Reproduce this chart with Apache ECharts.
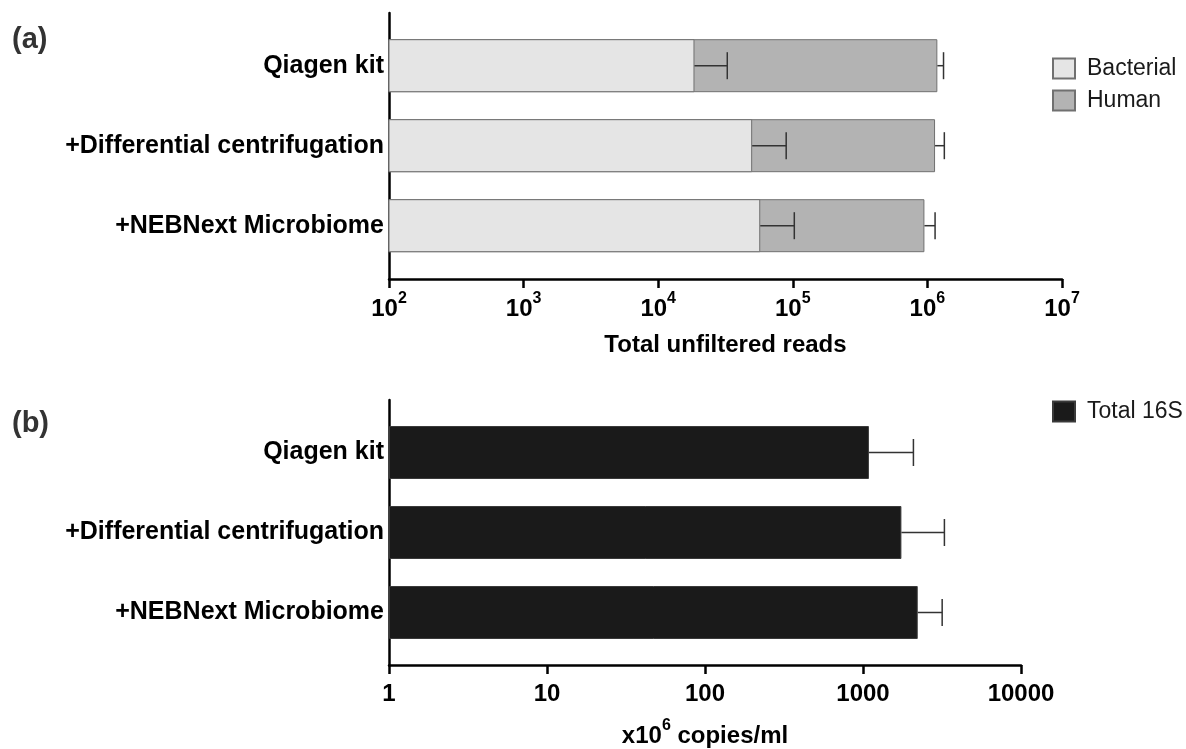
<!DOCTYPE html>
<html>
<head>
<meta charset="utf-8">
<script src="https://cdn.jsdelivr.net/npm/echarts@6/dist/echarts.min.js"></script>
<style>html,body{margin:0;padding:0;background:#fff}#main{width:1186px;height:749px}</style>
</head>
<body>
<div id="main"></div>
<script>
var methods = ['Qiagen kit', '+Differential centrifugation', '+NEBNext Microbiome'];
// panel (a) reads
var bacterialReads = [18600, 49900, 57300];
var bacterialErr = [14000, 39400, 45300];
var humanReads = [1167000, 1090000, 893000];
var totalErr = [132000, 196000, 190000];
// panel (b) 16S copies (x10^6 / ml)
var copies16S = [1090, 1750, 2220];
var copies16SErr = [995, 1525, 950];

var totalReads = [], errBact = [], errTotal = [], err16S = [];
for (var i = 0; i < methods.length; i++) {
	totalReads.push(bacterialReads[i] + humanReads[i]);
	errBact.push([bacterialReads[i], bacterialReads[i] + bacterialErr[i], i]);
	errTotal.push([totalReads[i], totalReads[i] + totalErr[i], i]);
	err16S.push([copies16S[i], copies16S[i] + copies16SErr[i], i]);
}

var FONT = 'Liberation Sans, Arial, sans-serif';

function errorBar(params, api) {
	var cat = api.value(2);
	var a = api.coord([api.value(0), cat]);
	var b = api.coord([api.value(1), cat]);
	var h = 13.5;
	var st = {stroke: '#333', lineWidth: 1.5};
	return {type: 'group', children: [
		{type: 'line', shape: {x1: a[0], y1: a[1], x2: b[0], y2: b[1]}, style: st},
		{type: 'line', shape: {x1: b[0], y1: b[1] - h, x2: b[0], y2: b[1] + h}, style: st}
	]};
}

var axLine = {show: true, lineStyle: {color: '#000', width: 2.5}};
var supRich = {
	b: {fontSize: 24, fontWeight: 'bold', color: '#000', fontFamily: FONT, verticalAlign: 'bottom', lineHeight: 30},
	s: {fontSize: 16, fontWeight: 'bold', color: '#000', fontFamily: FONT, verticalAlign: 'top', lineHeight: 30}
};
var legendText = {fontSize: 23, color: '#1a1a1a', fontFamily: FONT, padding: [0, 0, 0, 7]};

var myChart = echarts.init(document.getElementById('main'));

option = {
	backgroundColor: '#fff',
	animation: false,
	title: [
		{text: '(a)', left: 12, top: 25, padding: 0, textStyle: {fontSize: 29, fontWeight: 'bold', color: '#333', fontFamily: FONT}},
		{text: '(b)', left: 12, top: 409, padding: 0, textStyle: {fontSize: 29, fontWeight: 'bold', color: '#333', fontFamily: FONT}}
	],
	legend: [
		{data: ['Bacterial', 'Human'], orient: 'vertical', left: 1052, top: 57, padding: 0,
		 itemWidth: 22, itemHeight: 20, itemGap: 9, icon: 'rect', textStyle: legendText},
		{data: ['Total 16S'], orient: 'vertical', left: 1052, top: 400, padding: 0,
		 itemWidth: 22, itemHeight: 20, icon: 'rect', textStyle: legendText}
	],
	grid: [
		{left: 389, top: 13, width: 673, height: 266, outerBoundsMode: 'none'},
		{left: 389, top: 25.7, width: 673, height: 240, outerBoundsMode: 'none'},
		{left: 389, top: 400, width: 632, height: 265, outerBoundsMode: 'none'},
		{left: 389, top: 412.5, width: 632, height: 240, outerBoundsMode: 'none'}
	],
	xAxis: [
		{gridIndex: 0, type: 'log', logBase: 10, min: 100, max: 1e7, splitNumber: 5,
		 axisLine: axLine, axisTick: {show: true, length: 9, lineStyle: {color: '#000', width: 2.5}},
		 splitLine: {show: false}, minorTick: {show: false},
		 axisLabel: {margin: 12, formatter: function (v) {
			return '{b|10}{s|' + Math.round(Math.log10(v)) + '}';
		 }, rich: supRich},
		 name: 'Total unfiltered reads', nameLocation: 'middle', nameGap: 54,
		 nameTextStyle: {fontSize: 24, fontWeight: 'bold', color: '#000', fontFamily: FONT}},
		{gridIndex: 1, type: 'log', logBase: 10, min: 100, max: 1e7, show: false},
		{gridIndex: 2, type: 'log', logBase: 10, min: 1, max: 10000, splitNumber: 4,
		 axisLine: axLine, axisTick: {show: true, length: 9, lineStyle: {color: '#000', width: 2.5}},
		 splitLine: {show: false}, minorTick: {show: false},
		 axisLabel: {margin: 17, fontSize: 24, fontWeight: 'bold', color: '#000', fontFamily: FONT,
			formatter: function (v) { return String(Math.round(v)); }},
		 name: '{n|x10}{s|6}{n| copies/ml}', nameLocation: 'middle', nameGap: 53,
		 nameTextStyle: {rich: {
			n: {fontSize: 24, fontWeight: 'bold', color: '#000', fontFamily: FONT, verticalAlign: 'bottom', lineHeight: 30},
			s: {fontSize: 16, fontWeight: 'bold', color: '#000', fontFamily: FONT, verticalAlign: 'top', lineHeight: 30}
		 }}},
		{gridIndex: 3, type: 'log', logBase: 10, min: 1, max: 10000, show: false}
	],
	yAxis: [
		{gridIndex: 0, type: 'value', min: 0, max: 1, axisLine: axLine, axisTick: {show: false},
		 axisLabel: {show: false}, splitLine: {show: false}},
		{gridIndex: 1, type: 'category', data: methods, inverse: true,
		 axisLine: {show: false}, axisTick: {show: false},
		 axisLabel: {margin: 5, fontSize: 25, fontWeight: 'bold', color: '#000', fontFamily: FONT}},
		{gridIndex: 2, type: 'value', min: 0, max: 1, axisLine: axLine, axisTick: {show: false},
		 axisLabel: {show: false}, splitLine: {show: false}},
		{gridIndex: 3, type: 'category', data: methods, inverse: true,
		 axisLine: {show: false}, axisTick: {show: false},
		 axisLabel: {margin: 5, fontSize: 25, fontWeight: 'bold', color: '#000', fontFamily: FONT}}
	],
	series: [
		{name: 'Human', type: 'bar', xAxisIndex: 1, yAxisIndex: 1, data: totalReads,
		 barWidth: 53, clip: true,
		 itemStyle: {color: '#b3b3b3', borderColor: '#707070', borderWidth: 1}},
		{name: 'Bacterial', type: 'bar', xAxisIndex: 1, yAxisIndex: 1, data: bacterialReads,
		 barWidth: 53, barGap: '-100%', clip: true,
		 itemStyle: {color: '#e5e5e5', borderColor: '#707070', borderWidth: 1}},
		{type: 'custom', xAxisIndex: 1, yAxisIndex: 1, renderItem: errorBar,
		 encode: {x: [0, 1], y: 2}, data: errBact, z: 5},
		{type: 'custom', xAxisIndex: 1, yAxisIndex: 1, renderItem: errorBar,
		 encode: {x: [0, 1], y: 2}, data: errTotal, z: 5},
		{name: 'Total 16S', type: 'bar', xAxisIndex: 3, yAxisIndex: 3, data: copies16S,
		 barWidth: 53, clip: true,
		 itemStyle: {color: '#1a1a1a', borderColor: '#3a3a3a', borderWidth: 1}},
		{type: 'custom', xAxisIndex: 3, yAxisIndex: 3, renderItem: errorBar,
		 encode: {x: [0, 1], y: 2}, data: err16S, z: 5}
	]
};

myChart.setOption(option);
</script>
</body>
</html>
